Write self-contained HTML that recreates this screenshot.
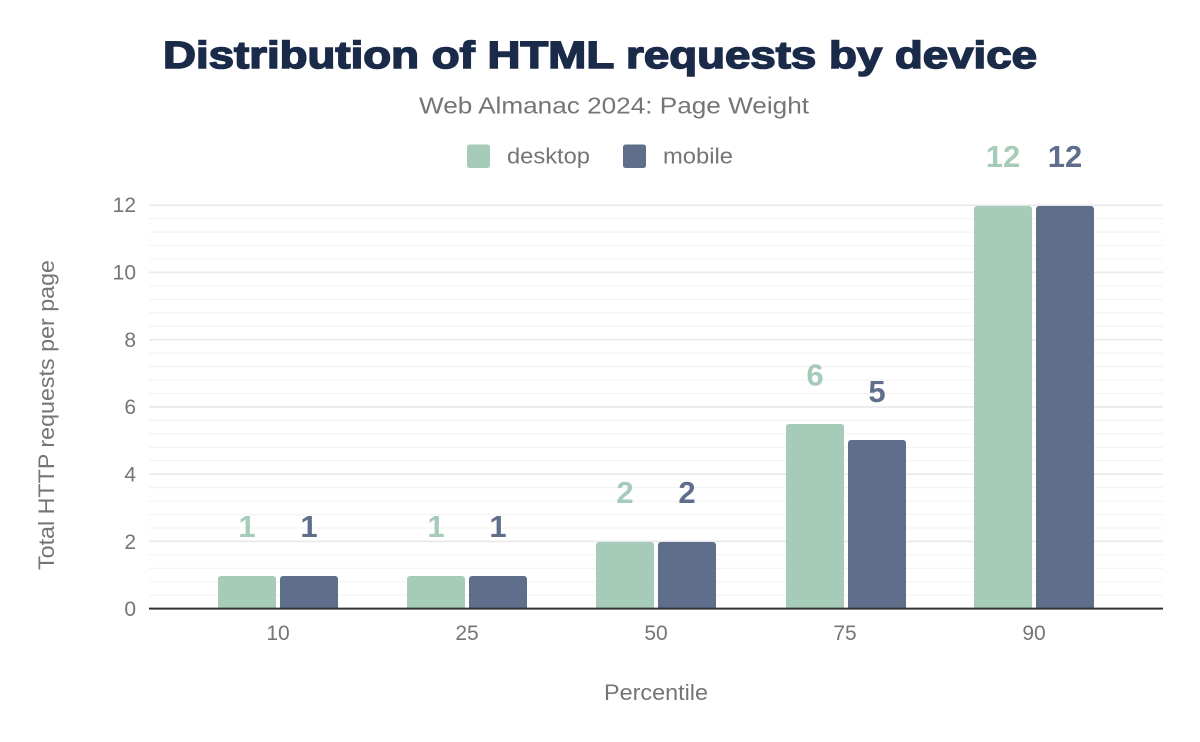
<!DOCTYPE html>
<html><head><meta charset="utf-8"><style>
html,body{margin:0;padding:0;background:#fff;}
svg{display:block;}
text{font-family:"Liberation Sans",Arial,sans-serif;}
</style></head><body>
<svg width="1200" height="742" viewBox="0 0 1200 742" xmlns="http://www.w3.org/2000/svg">
<rect width="1200" height="742" fill="#fff"/>
<!-- title -->
<text x="163" y="68" font-size="38" font-weight="bold" fill="#1a2b49" stroke="#1a2b49" stroke-width="1.5" textLength="874" lengthAdjust="spacingAndGlyphs">Distribution of HTML requests by device</text>
<text x="419" y="113.5" font-size="23" fill="#757575" textLength="390" lengthAdjust="spacingAndGlyphs">Web Almanac 2024: Page Weight</text>
<!-- legend -->
<rect x="467" y="144.5" width="23" height="23.5" rx="2.5" fill="#a7cbb9"/>
<text x="507" y="163.5" font-size="22" fill="#757575" textLength="83" lengthAdjust="spacingAndGlyphs">desktop</text>
<rect x="623" y="144.5" width="23" height="23.5" rx="2.5" fill="#5f6f8b"/>
<text x="663" y="163.5" font-size="22" fill="#757575" textLength="70" lengthAdjust="spacingAndGlyphs">mobile</text>
<!-- gridlines -->
<g stroke="#f3f3f3" stroke-width="1.2">
<line x1="149" x2="1163" y1="595.2" y2="595.2"/><line x1="149" x2="1163" y1="581.8" y2="581.8"/><line x1="149" x2="1163" y1="568.3" y2="568.3"/><line x1="149" x2="1163" y1="554.9" y2="554.9"/>
<line x1="149" x2="1163" y1="528.0" y2="528.0"/><line x1="149" x2="1163" y1="514.5" y2="514.5"/><line x1="149" x2="1163" y1="501.1" y2="501.1"/><line x1="149" x2="1163" y1="487.6" y2="487.6"/>
<line x1="149" x2="1163" y1="460.7" y2="460.7"/><line x1="149" x2="1163" y1="447.3" y2="447.3"/><line x1="149" x2="1163" y1="433.8" y2="433.8"/><line x1="149" x2="1163" y1="420.4" y2="420.4"/>
<line x1="149" x2="1163" y1="393.5" y2="393.5"/><line x1="149" x2="1163" y1="380.0" y2="380.0"/><line x1="149" x2="1163" y1="366.6" y2="366.6"/><line x1="149" x2="1163" y1="353.1" y2="353.1"/>
<line x1="149" x2="1163" y1="326.2" y2="326.2"/><line x1="149" x2="1163" y1="312.8" y2="312.8"/><line x1="149" x2="1163" y1="299.3" y2="299.3"/><line x1="149" x2="1163" y1="285.9" y2="285.9"/>
<line x1="149" x2="1163" y1="259.0" y2="259.0"/><line x1="149" x2="1163" y1="245.5" y2="245.5"/><line x1="149" x2="1163" y1="232.1" y2="232.1"/><line x1="149" x2="1163" y1="218.6" y2="218.6"/>
</g>
<g stroke="#e9e9e9" stroke-width="1.7">
<line x1="149" x2="1163" y1="541.4" y2="541.4"/>
<line x1="149" x2="1163" y1="474.2" y2="474.2"/>
<line x1="149" x2="1163" y1="406.9" y2="406.9"/>
<line x1="149" x2="1163" y1="339.7" y2="339.7"/>
<line x1="149" x2="1163" y1="272.4" y2="272.4"/>
<line x1="149" x2="1163" y1="205.2" y2="205.2"/>
</g>
<!-- y tick labels -->
<g font-size="21" fill="#757575" text-anchor="end">
<text x="136" y="616">0</text>
<text x="136" y="549">2</text>
<text x="136" y="481.5">4</text>
<text x="136" y="414">6</text>
<text x="136" y="347">8</text>
<text x="136" y="279.5">10</text>
<text x="136" y="212">12</text>
</g>
<text transform="translate(54,415) rotate(-90)" text-anchor="middle" font-size="22" fill="#757575" textLength="310" lengthAdjust="spacingAndGlyphs">Total HTTP requests per page</text>
<!-- bars -->
<g fill="#a7cbb9">
<path d="M218 609V579a3 3 0 0 1 3-3H273a3 3 0 0 1 3 3V609Z"/>
<path d="M407 609V579a3 3 0 0 1 3-3H462a3 3 0 0 1 3 3V609Z"/>
<path d="M596 609V545a3 3 0 0 1 3-3H651a3 3 0 0 1 3 3V609Z"/>
<path d="M786 609V427a3 3 0 0 1 3-3H841a3 3 0 0 1 3 3V609Z"/>
<path d="M974 609V209a3 3 0 0 1 3-3H1029a3 3 0 0 1 3 3V609Z"/>
</g>
<g fill="#5f6f8b">
<path d="M280 609V579a3 3 0 0 1 3-3H335a3 3 0 0 1 3 3V609Z"/>
<path d="M469 609V579a3 3 0 0 1 3-3H524a3 3 0 0 1 3 3V609Z"/>
<path d="M658 609V545a3 3 0 0 1 3-3H713a3 3 0 0 1 3 3V609Z"/>
<path d="M848 609V443a3 3 0 0 1 3-3H903a3 3 0 0 1 3 3V609Z"/>
<path d="M1036 609V209a3 3 0 0 1 3-3H1091a3 3 0 0 1 3 3V609Z"/>
</g>
<!-- axis -->
<line x1="149" x2="1163" y1="608.6" y2="608.6" stroke="#333" stroke-width="2"/>
<!-- value labels -->
<g font-size="31" font-weight="bold" text-anchor="middle">
<text x="247" y="537" fill="#a7cbb9">1</text>
<text x="309" y="537" fill="#5f6f8b">1</text>
<text x="436" y="537" fill="#a7cbb9">1</text>
<text x="498" y="537" fill="#5f6f8b">1</text>
<text x="625" y="503" fill="#a7cbb9">2</text>
<text x="687" y="503" fill="#5f6f8b">2</text>
<text x="815" y="385.5" fill="#a7cbb9">6</text>
<text x="877" y="402" fill="#5f6f8b">5</text>
<text x="1003" y="167" fill="#a7cbb9">12</text>
<text x="1065" y="167" fill="#5f6f8b">12</text>
</g>
<!-- x tick labels -->
<g font-size="21" fill="#757575" text-anchor="middle">
<text x="278" y="640">10</text>
<text x="467" y="640">25</text>
<text x="656" y="640">50</text>
<text x="845" y="640">75</text>
<text x="1034" y="640">90</text>
</g>
<text x="656" y="700" text-anchor="middle" font-size="22" fill="#757575" textLength="104" lengthAdjust="spacingAndGlyphs">Percentile</text>
</svg>
</body></html>
